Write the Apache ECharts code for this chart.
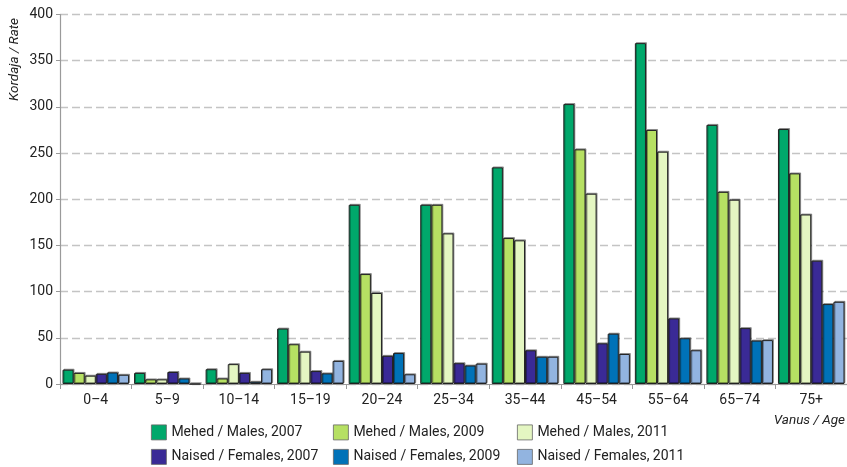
<!DOCTYPE html>
<html><head><meta charset="utf-8">
<script src="https://cdn.jsdelivr.net/npm/echarts@6/dist/echarts.min.js"></script>
<style>html,body{margin:0;padding:0;background:#fff}#c{width:847px;height:467px}</style>
</head><body><div id="c"></div>
<script>
const categories = ['0–4','5–9','10–14','15–19','20–24','25–34','35–44','45–54','55–64','65–74','75+'];
const yTicks = [0,50,100,150,200,250,300,350,400];
const males2007   = [15.5, 12, 16, 60, 194, 194, 234.5, 303, 369, 280.5, 276];
const males2009   = [12, 5, 6, 43, 119, 194, 158, 254, 275, 208, 228];
const males2011   = [9, 5, 21.5, 35, 98.5, 163, 155.5, 206, 251.5, 199.5, 183.5];
const females2007 = [11, 13, 12, 14, 30.5, 22.5, 36.5, 44, 71, 60.5, 133.5];
const females2009 = [12.5, 6, 2.5, 11.5, 33.5, 20, 29.5, 54.5, 49.5, 47, 86.5];
const females2011 = [10, 0, 16, 25, 10.5, 22, 29.5, 32.5, 36.5, 47.5, 89];
const seriesNames = ['Mehed / Males, 2007','Mehed / Males, 2009','Mehed / Males, 2011','Naised / Females, 2007','Naised / Females, 2009','Naised / Females, 2011'];
const seriesData = [males2007, males2009, males2011, females2007, females2009, females2011];
const colors = ['#00a86b','#b6e063','#e4f6c2','#3a2a96','#0072b8','#92b4e0'];

const FONT = 'Roboto';
const legendPos = [[151,424.5],[333,424.5],[517,424.5],[151,449],[333,449],[517,449]];
const chart = echarts.init(document.getElementById('c'));
chart.setOption({
  animation: false,
  color: colors,
  textStyle: {fontFamily: FONT},
  grid: {left: 60, right: -3, top: 14.5, bottom: 83, containLabel: false},
  legend: seriesNames.map((n,i) => ({
    data: [n], left: legendPos[i][0], top: legendPos[i][1], padding: 0,
    itemWidth: 15, itemHeight: 15, icon: 'rect',
    itemStyle: {borderColor: '#666', borderWidth: 0.8},
    textStyle: {fontSize: 14, color: '#222', fontFamily: FONT}
  })),
  xAxis: {
    type: 'category', data: categories,
    axisLine: {lineStyle: {color: '#9a9a9a', width: 1.2}},
    axisTick: {show: true, length: 5, lineStyle: {color: '#9a9a9a'}},
    axisLabel: {fontSize: 14, color: '#222', margin: 9, fontFamily: FONT}
  },
  yAxis: {
    type: 'value', min: 0, max: 400, interval: 50,
    axisLine: {show: true, lineStyle: {color: '#9a9a9a', width: 1.2}},
    axisTick: {show: true, length: 4, lineStyle: {color: '#9a9a9a'}},
    axisLabel: {fontSize: 14, color: '#222', margin: 7, fontFamily: FONT,
      formatter: v => yTicks.includes(v) ? String(v) : ''},
    splitLine: {lineStyle: {color: '#c4c4c4', type: [8,4], width: 1.3}}
  },
  series: seriesData.map((d,i) => ({
    name: seriesNames[i], type: 'bar', data: d,
    barGap: '0%', barCategoryGap: '7%',
    itemStyle: {borderColor: '#222', borderWidth: 1, shadowColor: 'rgba(0,0,0,0.35)', shadowOffsetX: 1, shadowOffsetY: -1, shadowBlur: 0}
  })),
  graphic: [
    {type: 'text', rotation: Math.PI/2, x: 8, y: 101, style: {text: 'Kordaja / Rate', font: 'italic 13.5px ' + FONT, fill: '#222'}},
    {type: 'text', right: 2, top: 414, style: {text: 'Vanus / Age', font: 'italic 13.5px ' + FONT, fill: '#222'}}
  ]
});
</script></body></html>
